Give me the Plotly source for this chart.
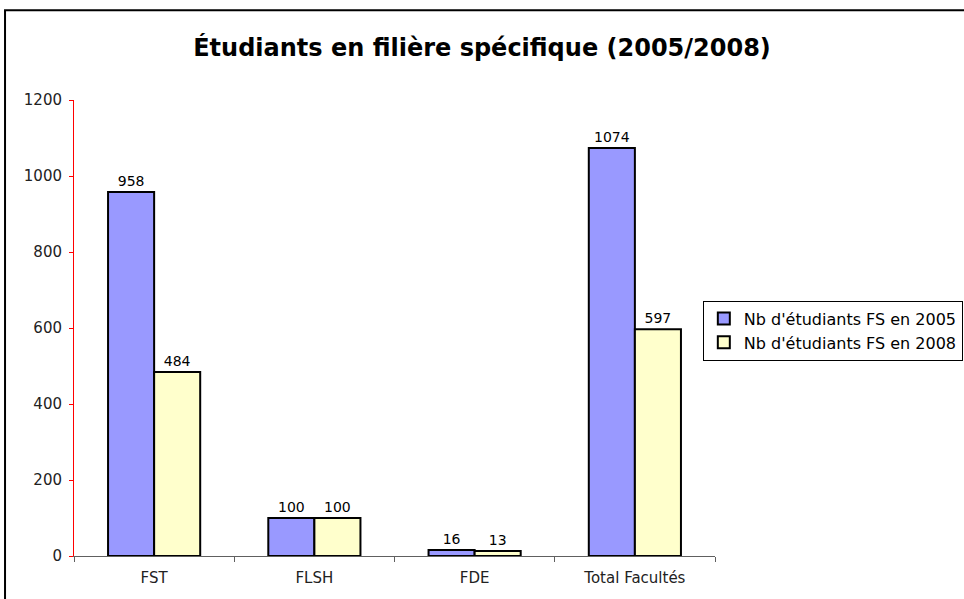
import plotly.graph_objects as go

# categories and values
facultes = ["FST", "FLSH", "FDE", "Total Facultés"]
nb_2005 = [958, 100, 16, 1074]
nb_2008 = [484, 100, 13, 597]
y_ticks = [0, 200, 400, 600, 800, 1000, 1200]

font_fam = "DejaVu Sans, Verdana, sans-serif"

fig = go.Figure()
fig.add_trace(go.Bar(
    x=facultes, y=nb_2005, name="Nb d'étudiants FS en 2005",
    marker=dict(color="#9999FF", line=dict(color="black", width=2)),
    text=nb_2005, textposition="outside", textfont=dict(size=14, color="black"),
    cliponaxis=False,
))
fig.add_trace(go.Bar(
    x=facultes, y=nb_2008, name="Nb d'étudiants FS en 2008",
    marker=dict(color="#FFFFCC", line=dict(color="black", width=2)),
    text=nb_2008, textposition="outside", textfont=dict(size=14, color="black"),
    cliponaxis=False,
))

fig.update_layout(
    width=964, height=599,
    margin=dict(l=74, r=249, t=100, b=43, autoexpand=False),
    paper_bgcolor="white", plot_bgcolor="white",
    font=dict(family=font_fam, size=15, color="black"),
    title=dict(text="<b>Étudiants en filière spécifique (2005/2008)</b>",
               x=0.5, xref="container", y=1 - 48 / 599, yref="container",
               xanchor="center", yanchor="middle",
               font=dict(size=24, color="black")),
    barmode="group", bargap=0.425, bargroupgap=0,
    legend=dict(x=0.981, y=0.56, xanchor="left", yanchor="top",
                bordercolor="black", borderwidth=1, bgcolor="white",
                font=dict(size=16), tracegroupgap=0, itemwidth=30),
    showlegend=True,
)
fig.update_xaxes(showline=True, linecolor="#606060", linewidth=1,
                 ticks="outside", tickson="boundaries", ticklen=5,
                 tickcolor="#606060", showgrid=False, ticklabelstandoff=8,
                 tickfont=dict(size=15, color="#222222"))
fig.update_yaxes(range=[0, 1200], tickvals=y_ticks, showline=True,
                 linecolor="red", linewidth=1, ticks="outside", ticklen=4,
                 tickcolor="red", showgrid=False, zeroline=False,
                 ticklabelstandoff=4,
                 tickfont=dict(size=15, color="#222222"))

# outer chart frame
fig.add_shape(type="rect", xref="paper", yref="paper",
              x0=-0.1076, y0=-0.11, x1=1.5, y1=1.197,
              line=dict(color="black", width=2), layer="below")

fig.write_html("out.html", config={"displayModeBar": False},
               post_script="document.body.style.margin='0px';")
